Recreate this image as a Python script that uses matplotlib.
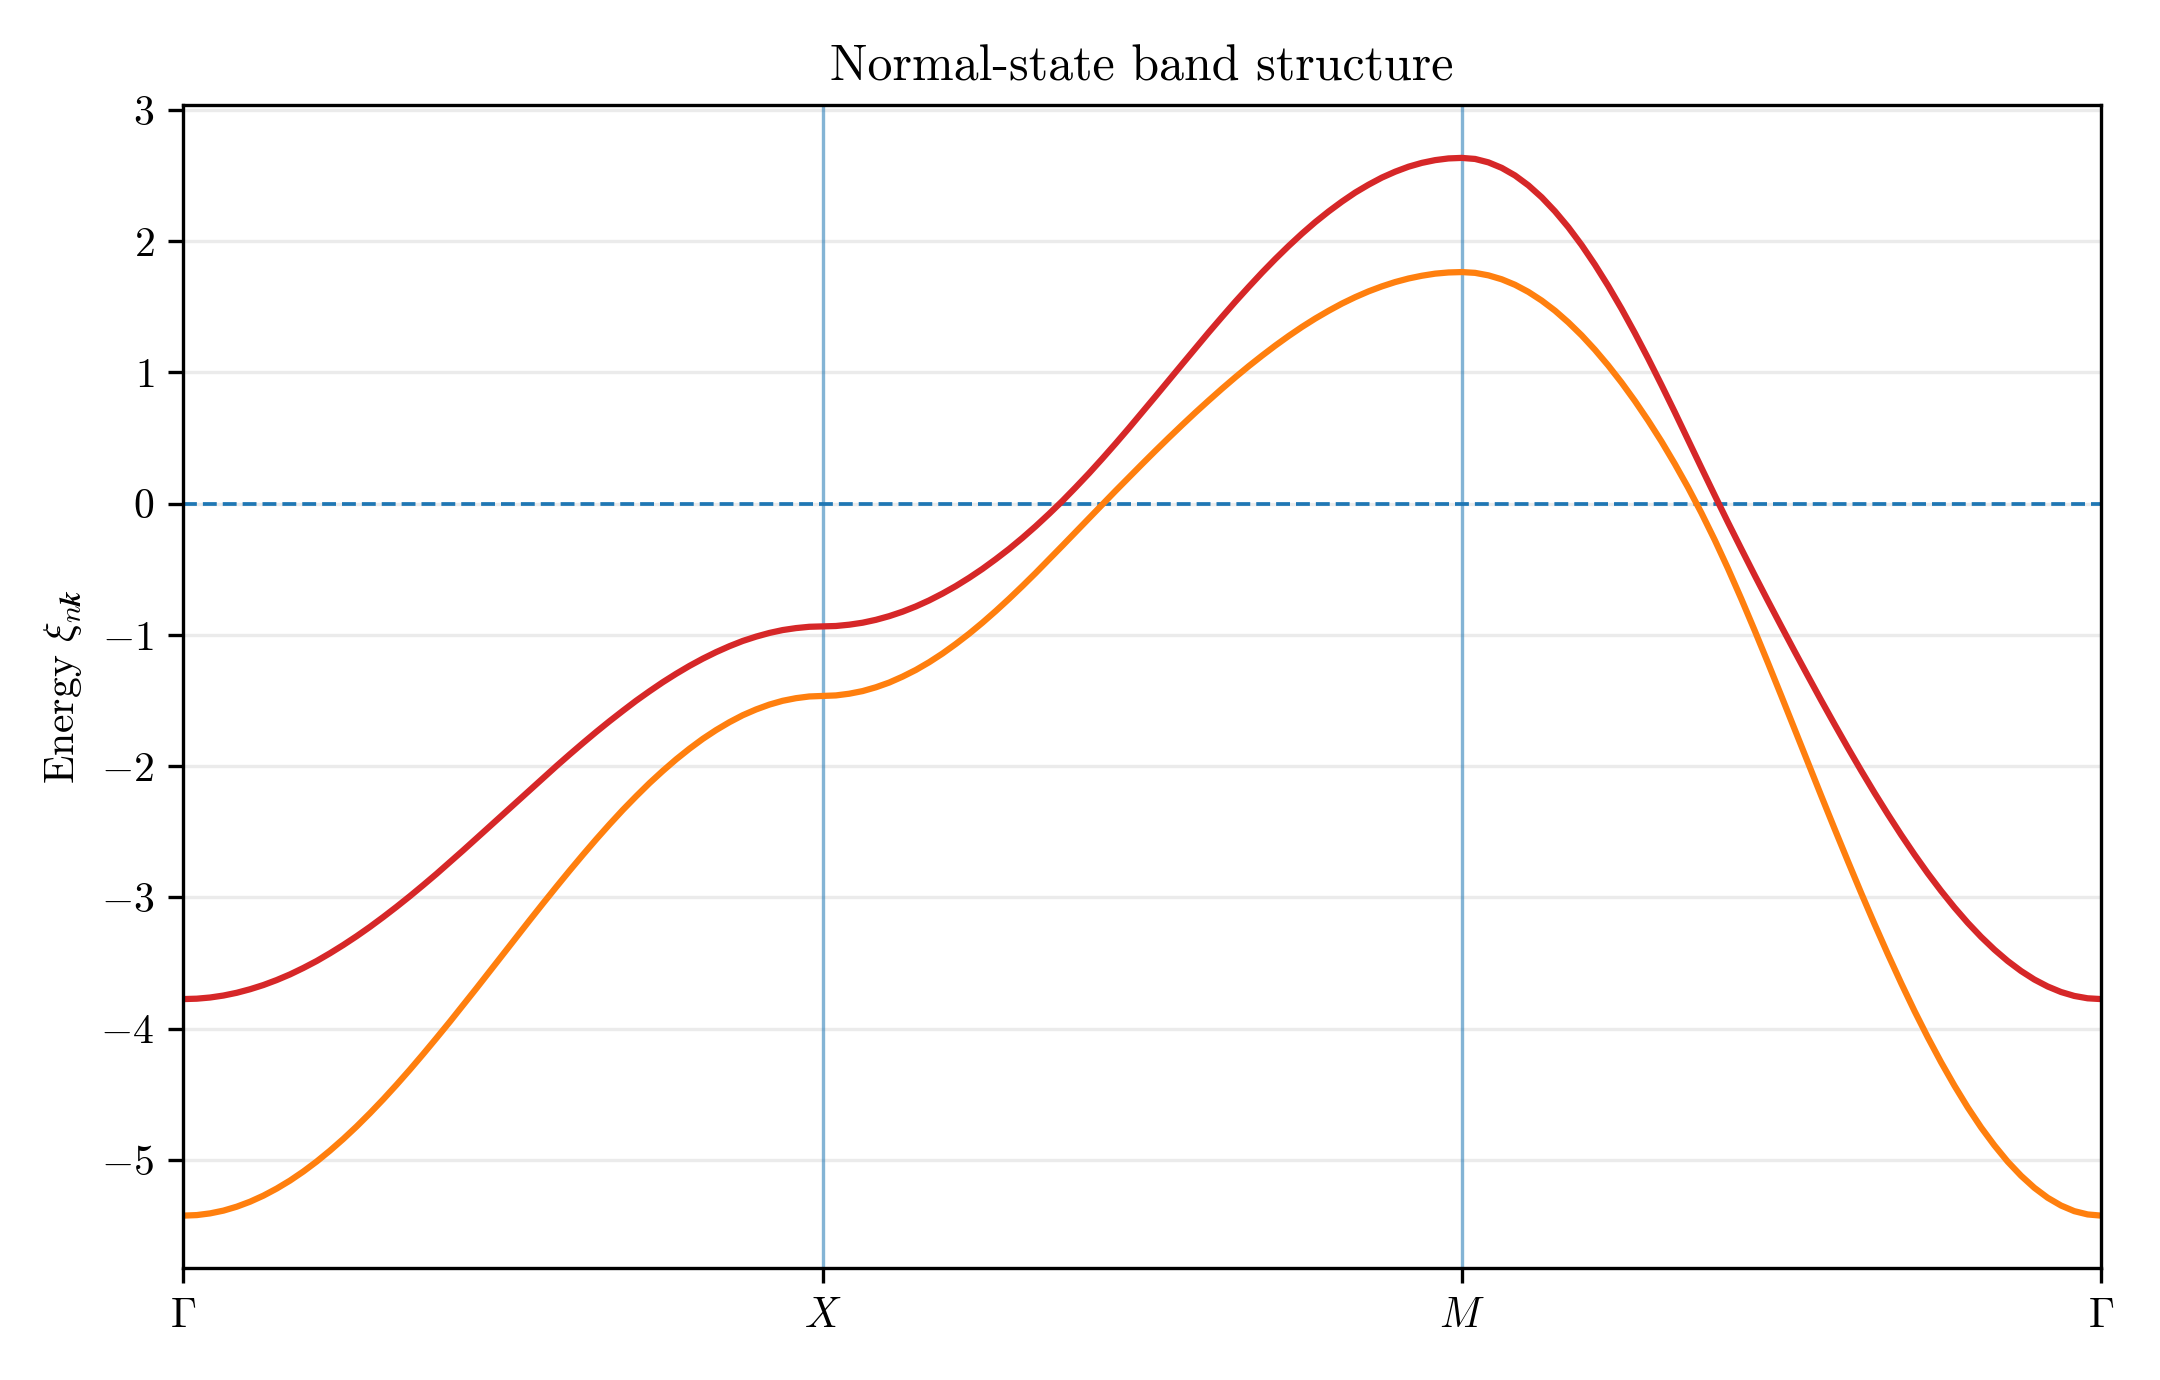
import numpy as np
import matplotlib
matplotlib.use("Agg")
import matplotlib.pyplot as plt

# High-symmetry path labels
tick_labels = [r"$\Gamma$", r"$X$", r"$M$", r"$\Gamma$"]

# Band energies read along each path segment (evenly sampled along the segment)
red_GX = [-3.775, -3.772, -3.763, -3.748, -3.727, -3.700, -3.668, -3.630, -3.587, -3.538,
          -3.485, -3.426, -3.363, -3.296, -3.225, -3.150, -3.072, -2.991, -2.907, -2.821,
          -2.732, -2.642, -2.551, -2.459, -2.367, -2.274, -2.182, -2.091, -2.000, -1.911,
          -1.824, -1.739, -1.657, -1.578, -1.501, -1.429, -1.360, -1.296, -1.236, -1.181,
          -1.131, -1.086, -1.046, -1.013, -0.985, -0.963, -0.948, -0.938, -0.935]
orange_GX = [-5.425, -5.421, -5.408, -5.387, -5.357, -5.319, -5.273, -5.219, -5.158, -5.089,
             -5.013, -4.930, -4.841, -4.746, -4.645, -4.539, -4.428, -4.313, -4.194, -4.072,
             -3.948, -3.821, -3.693, -3.563, -3.433, -3.303, -3.174, -3.046, -2.920, -2.796,
             -2.675, -2.557, -2.443, -2.333, -2.229, -2.129, -2.036, -1.948, -1.867, -1.792,
             -1.725, -1.665, -1.612, -1.568, -1.531, -1.502, -1.482, -1.469, -1.465]
red_XM = [-0.935, -0.932, -0.922, -0.907, -0.885, -0.857, -0.823, -0.783, -0.737, -0.685,
          -0.628, -0.565, -0.497, -0.423, -0.345, -0.261, -0.172, -0.078, 0.020, 0.124,
          0.231, 0.343, 0.458, 0.576, 0.697, 0.818, 0.941, 1.063, 1.185, 1.306,
          1.424, 1.540, 1.652, 1.761, 1.865, 1.964, 2.058, 2.146, 2.227, 2.302,
          2.371, 2.431, 2.485, 2.530, 2.568, 2.597, 2.618, 2.631, 2.635]
orange_XM = [-1.465, -1.461, -1.448, -1.428, -1.399, -1.363, -1.318, -1.267, -1.208, -1.142,
             -1.069, -0.991, -0.907, -0.818, -0.725, -0.628, -0.528, -0.425, -0.321, -0.216,
             -0.111, -0.006, 0.098, 0.201, 0.303, 0.404, 0.503, 0.600, 0.695, 0.787,
             0.877, 0.964, 1.048, 1.128, 1.205, 1.278, 1.347, 1.411, 1.470, 1.525,
             1.574, 1.618, 1.656, 1.689, 1.716, 1.737, 1.753, 1.762, 1.765]
red_MG = [2.635, 2.627, 2.601, 2.559, 2.501, 2.426, 2.335, 2.228, 2.107, 1.971,
          1.821, 1.659, 1.485, 1.300, 1.106, 0.904, 0.697, 0.485, 0.273, 0.063,
          -0.144, -0.346, -0.546, -0.742, -0.935, -1.126, -1.314, -1.500, -1.682, -1.861,
          -2.035, -2.204, -2.367, -2.524, -2.674, -2.817, -2.951, -3.077, -3.194, -3.301,
          -3.398, -3.485, -3.561, -3.626, -3.679, -3.721, -3.751, -3.769, -3.775]
orange_MG = [1.765, 1.759, 1.740, 1.710, 1.668, 1.614, 1.548, 1.471, 1.382, 1.283,
             1.173, 1.053, 0.923, 0.783, 0.633, 0.474, 0.303, 0.122, -0.071, -0.277,
             -0.496, -0.727, -0.967, -1.214, -1.465, -1.719, -1.973, -2.227, -2.478, -2.725,
             -2.968, -3.204, -3.433, -3.654, -3.866, -4.067, -4.257, -4.435, -4.601, -4.753,
             -4.890, -5.014, -5.121, -5.213, -5.289, -5.348, -5.391, -5.416, -5.425]

plt.rcParams.update({
    "font.family": "serif",
    "font.serif": ["cmr10", "DejaVu Serif"],
    "mathtext.fontset": "cm",
    "axes.formatter.use_mathtext": True,
    "font.size": 10,
    "axes.unicode_minus": True,
})

red_segments = [red_GX, red_XM, red_MG]
orange_segments = [orange_GX, orange_XM, orange_MG]


def path(segments):
    xs, ys = [], []
    for i, seg in enumerate(segments):
        x = list(np.linspace(i, i + 1, len(seg)))
        vals = list(seg)
        if i > 0:
            x, vals = x[1:], vals[1:]
        xs.extend(x)
        ys.extend(vals)
    return np.array(xs), np.array(ys)


fig = plt.figure(figsize=(7.2, 4.6), dpi=300)
ax = fig.add_axes([0.08495, 0.0808, 0.8877, 0.8431])

ax.grid(axis="y", alpha=0.25)
ax.set_axisbelow(True)

for xv in [1, 2]:
    ax.axvline(xv, color="tab:blue", alpha=0.55, lw=0.8)
ax.axhline(0, color="tab:blue", ls="--", lw=0.9)

xr, yr = path(red_segments)
xo, yo = path(orange_segments)
ax.plot(xr, yr, color="tab:red", lw=1.5)
ax.plot(xo, yo, color="tab:orange", lw=1.5)

ax.set_xlim(0, 3)
ax.set_xticks([0, 1, 2, 3])
ax.set_xticklabels(tick_labels)
ax.set_ylabel(r"Energy $\xi_{n\boldsymbol{k}}$")
ax.set_title("Normal-state band structure")

fig.savefig("out.png", dpi=300)
